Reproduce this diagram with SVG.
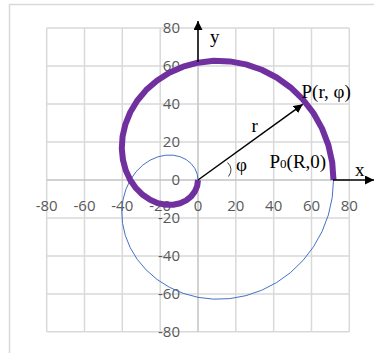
<svg xmlns="http://www.w3.org/2000/svg" xmlns:xlink="http://www.w3.org/1999/xlink" width="374" height="353" viewBox="0 0 374 353">
<style>
.grid{stroke:#d9d9d9;stroke-width:1.5;fill:none}
.axis{stroke:#c4c4c4;stroke-width:1.5;fill:none}
.tick{font-family:"Open Sans","Noto Sans",sans-serif;font-size:15px;fill:#595959}
.lab{font-family:"Liberation Serif",serif;font-size:19px;fill:#000}
.arr{stroke:#000;stroke-width:1.5;fill:none}
</style>
<defs>
<marker id="ah" viewBox="0 0 10 10" refX="10" refY="5" markerWidth="9" markerHeight="9" markerUnits="userSpaceOnUse" orient="auto">
<path d="M0,0 L10,5 L0,10 Z" fill="#000"/>
</marker>
<path id="sp" d="M333.5,180 L332.21,162.33 L328.38,145.06 L322.11,128.59 L313.56,113.28 L302.95,99.47 L290.55,87.45 L276.67,77.48 L261.66,69.73 L245.91,64.34 L229.78,61.38 L213.69,60.84 L198,62.65 L183.08,66.70 L169.27,72.78 L156.86,80.68 L146.10,90.11 L137.18,100.74 L130.25,112.25 L125.38,124.27 L122.57,136.45 L121.79,148.43 L122.93,159.88 L125.82,170.50 L130.25,180 L135.97,188.17 L142.69,194.82 L150.10,199.84 L157.87,203.17 L165.67,204.81 L173.20,204.80 L180.15,203.27 L186.24,200.38 L191.23,196.34 L194.94,191.41 L197.23,185.86 L198,180"/>
</defs>
<rect x="9.5" y="4.5" width="420" height="420" fill="#fff" stroke="#d9d9d9" stroke-width="1.5"/>
<g id="grid">
<path class="grid" d="M46.7,28V331.7 M84.5,28V331.7 M122.3,28V331.7 M160.2,28V331.7 M235.8,28V331.7 M273.7,28V331.7 M311.5,28V331.7 M349.3,28V331.7 M46.7,28H349.3 M46.7,66H349.3 M46.7,104H349.3 M46.7,142H349.3 M46.7,218H349.3 M46.7,256H349.3 M46.7,294H349.3 M46.7,331.7H349.3"/>
<path class="axis" d="M198,28V331.7 M46.7,180H349.3"/>
</g>
<g id="ticks" class="tick">
<g text-anchor="end">
<text x="180" y="33.4">80</text>
<text x="180" y="71.4">60</text>
<text x="180" y="109.4">40</text>
<text x="180" y="147.4">20</text>
<text x="180" y="185.4">0</text>
<text x="180" y="223.4">-20</text>
<text x="180" y="261.4">-40</text>
<text x="180" y="299.4">-60</text>
<text x="180" y="337.4">-80</text>
</g>
<g text-anchor="middle">
<text x="46.7" y="210.5">-80</text>
<text x="84.5" y="210.5">-60</text>
<text x="122.3" y="210.5">-40</text>
<text x="160.2" y="210.5">-20</text>
<text x="198" y="210.5">0</text>
<text x="235.8" y="210.5">20</text>
<text x="273.7" y="210.5">40</text>
<text x="311.5" y="210.5">60</text>
<text x="349.3" y="210.5">80</text>
</g>
</g>
<g id="curves">
<use id="blue" xlink:href="#sp" href="#sp" transform="translate(0,360) scale(1,-1)" fill="none" stroke="#4472C4" stroke-width="1"/>
<use id="spiral" xlink:href="#sp" href="#sp" fill="none" stroke="#7030A0" stroke-width="6" stroke-linejoin="round"/>
</g>
<g id="connectors">
<line class="arr" x1="198" y1="62" x2="198" y2="21" marker-end="url(#ah)"/>
<line class="arr" x1="333" y1="180" x2="374" y2="180" marker-end="url(#ah)"/>
<line class="arr" x1="198" y1="180" x2="302.7" y2="104.3" marker-end="url(#ah)"/>
<path d="M227.5,162.5 Q234,169 228.5,176.5" stroke="#404040" stroke-width="1" fill="none"/>
</g>
<g id="labels" class="lab">
<text x="210" y="42.5">y</text>
<text x="355" y="176">x</text>
<text x="251.5" y="131.5">r</text>
<text x="236" y="170.5">φ</text>
<text x="301.5" y="97.5">P(r, φ)</text>
<text x="269.5" y="168.3">P<tspan font-size="13">0</tspan>(R,0)</text>
</g>
</svg>
